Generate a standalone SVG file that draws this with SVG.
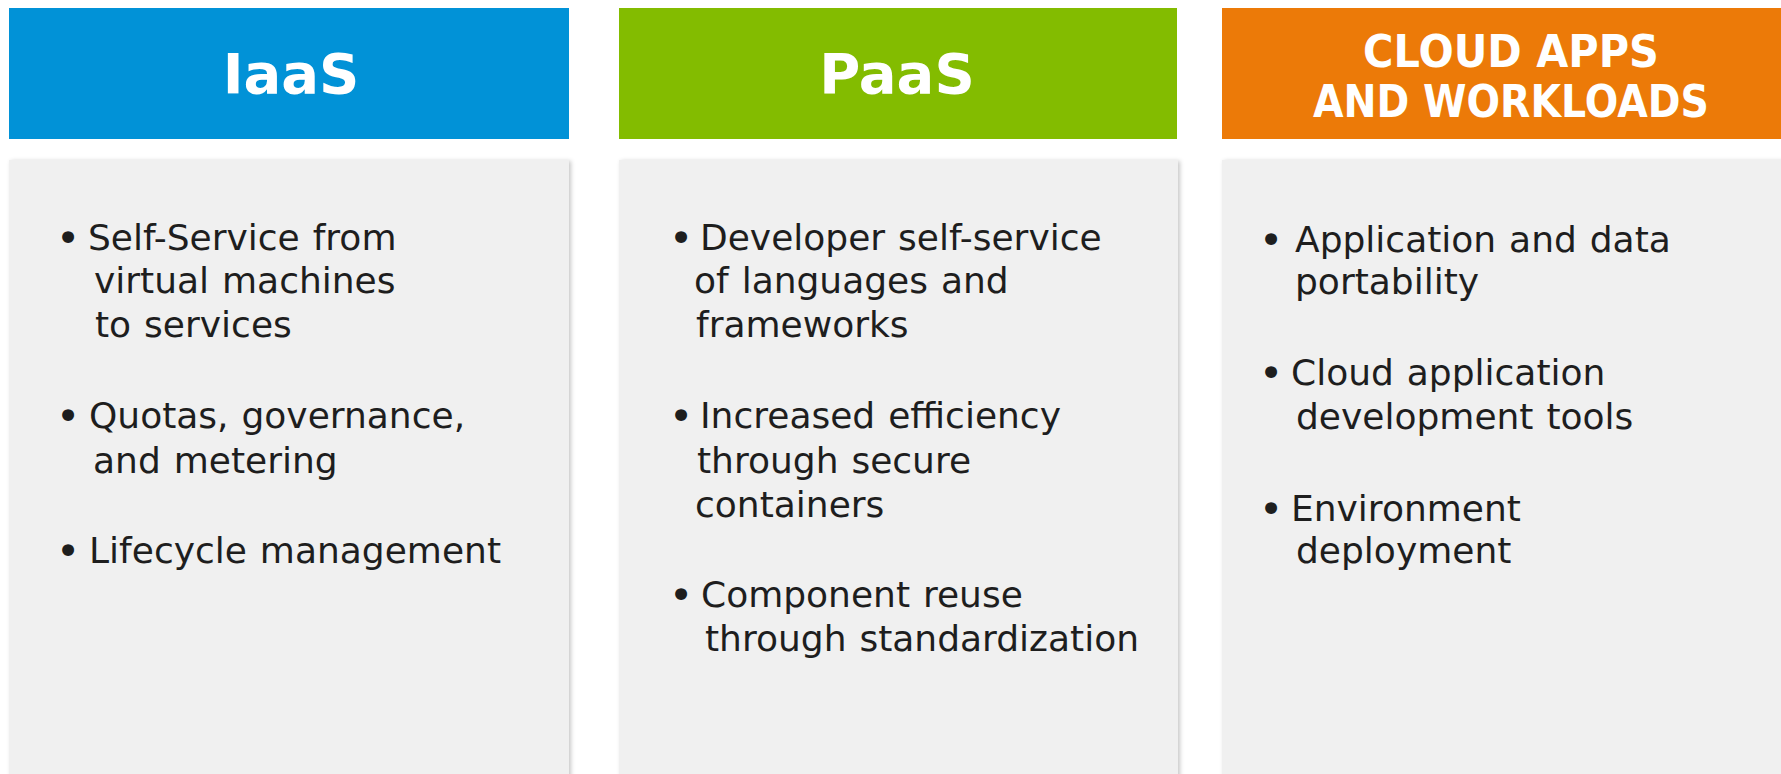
<svg xmlns="http://www.w3.org/2000/svg" width="1781" height="774" viewBox="0 0 1781 774">
  <defs>
    <filter id="shadow" x="-5%" y="-5%" width="110%" height="110%">
      <feDropShadow dx="2" dy="1" stdDeviation="2" flood-color="#000" flood-opacity="0.22"/>
    </filter>
    <style>
      .hdr { font-family: "DejaVu Sans", "Liberation Sans", sans-serif; font-weight: bold; fill: #ffffff; text-anchor: middle; }
      .big { font-size: 56px; }
      .small { font-size: 44px; }
      .body { fill: #f0f0f0; filter: url(#shadow); }
      .txt { font-family: "DejaVu Sans", "Liberation Sans", sans-serif; font-size: 36px; word-spacing: 1.5px; fill: #1e1e1e; }
      .bul { font-family: "DejaVu Sans", "Liberation Sans", sans-serif; font-size: 41px; fill: #1e1e1e; text-anchor: middle; }
    </style>
  </defs>
  <rect x="0" y="0" width="1781" height="774" fill="#ffffff"/>

  <g id="iaas">
    <rect x="9" y="8" width="560" height="131" fill="#0192d7"/>
    <text class="hdr big" x="291" y="93">IaaS</text>
    <rect class="body" x="9" y="160" width="560" height="640"/>
    <text class="bul" x="68" y="252">•</text>
    <text class="txt" x="88" y="250">Self-Service from</text>
    <text class="txt" x="94" y="293">virtual machines</text>
    <text class="txt" x="95" y="337">to services</text>
    <text class="bul" x="68" y="430">•</text>
    <text class="txt" x="89" y="428">Quotas, governance,</text>
    <text class="txt" x="93" y="473">and metering</text>
    <text class="bul" x="68" y="565">•</text>
    <text class="txt" x="89" y="563">Lifecycle management</text>
  </g>

  <g id="paas">
    <rect x="619" y="8" width="558" height="131" fill="#83bc00"/>
    <text class="hdr big" x="897" y="93">PaaS</text>
    <rect class="body" x="619" y="160" width="559" height="640"/>
    <text class="bul" x="681" y="252">•</text>
    <text class="txt" x="700" y="250">Developer self-service</text>
    <text class="txt" x="694" y="293">of languages and</text>
    <text class="txt" x="696" y="337">frameworks</text>
    <text class="bul" x="681" y="430">•</text>
    <text class="txt" x="700" y="428">Increased efficiency</text>
    <text class="txt" x="697" y="473">through secure</text>
    <text class="txt" x="695" y="517">containers</text>
    <text class="bul" x="681" y="609">•</text>
    <text class="txt" x="701" y="607">Component reuse</text>
    <text class="txt" x="705" y="651">through standardization</text>
  </g>

  <g id="cloud">
    <rect x="1222" y="8" width="570" height="131" fill="#ec7a08"/>
    <text class="hdr small" x="1511" y="67" textLength="296" lengthAdjust="spacingAndGlyphs">CLOUD APPS</text>
    <text class="hdr small" x="1511" y="117" textLength="396" lengthAdjust="spacingAndGlyphs">AND WORKLOADS</text>
    <rect class="body" x="1222" y="160" width="570" height="640"/>
    <text class="bul" x="1271" y="254">•</text>
    <text class="txt" x="1295" y="252">Application and data</text>
    <text class="txt" x="1295" y="294">portability</text>
    <text class="bul" x="1271" y="387">•</text>
    <text class="txt" x="1291" y="385">Cloud application</text>
    <text class="txt" x="1296" y="429">development tools</text>
    <text class="bul" x="1271" y="523">•</text>
    <text class="txt" x="1291" y="521">Environment</text>
    <text class="txt" x="1296" y="563">deployment</text>
  </g>

  <g id="connectors"></g>
</svg>
